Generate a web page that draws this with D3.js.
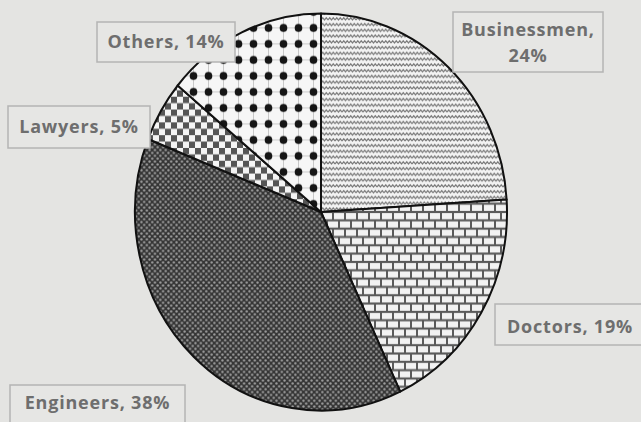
<!DOCTYPE html>
<html>
<head>
<meta charset="utf-8">
<script src="https://cdn.jsdelivr.net/npm/d3@7"></script>
<style>
  html, body { margin: 0; padding: 0; background: #e4e4e2; }
  svg { display: block; }
  .lbl { font-family: "Open Sans", sans-serif; font-weight: 700; fill: #6e6e6e; letter-spacing: 0.8px; }
</style>
</head>
<body>
<svg id="chart" width="641" height="422"></svg>
<script>
// ---- data ----
const categories = ["Businessmen", "Doctors", "Engineers", "Lawyers", "Others"];
const values = [24, 19, 38, 5, 14];
const patternIds = ["wave", "brick", "dense", "checker", "dots"];

// ---- layout (label boxes: x, y, w, h, text line baselines) ----
const labelBoxes = [
  { x: 453, y: 12, w: 150, h: 60, lines: [36, 62], split: true },
  { x: 495, y: 304, w: 150, h: 41, lines: [333] },
  { x: 10, y: 385, w: 175, h: 40, lines: [409] },
  { x: 8, y: 106, w: 142, h: 42, lines: [133] },
  { x: 97, y: 22, w: 138, h: 40, lines: [48] }
];

const svg = d3.select("#chart");
const W = 641, H = 422;
svg.append("rect").attr("width", W).attr("height", H).attr("fill", "#e4e4e2");

const defs = svg.append("defs");

// wave pattern (Businessmen)
{
  const p = defs.append("pattern").attr("id", "wave").attr("patternUnits", "userSpaceOnUse")
    .attr("width", 7).attr("height", 5.4);
  p.append("rect").attr("width", 7).attr("height", 5.4).attr("fill", "#f3f3f3");
  p.append("path").attr("d", "M0,3.6 L1.75,1.6 L3.5,3.6 L5.25,1.6 L7,3.6")
    .attr("fill", "none").attr("stroke", "#7a7a7a").attr("stroke-width", 1.1);
}
// brick pattern (Doctors)
{
  const bw = 12, bh = 7.8;
  const p = defs.append("pattern").attr("id", "brick").attr("patternUnits", "userSpaceOnUse")
    .attr("width", bw * 2).attr("height", bh * 2);
  p.append("rect").attr("width", bw * 2).attr("height", bh * 2).attr("fill", "#5a5a5a");
  const g = p.append("g").attr("fill", "#f2f2f2");
  [[1, 1], [bw + 1, 1], [-bw / 2 + 1, bh + 1], [bw / 2 + 1, bh + 1], [bw * 1.5 + 1, bh + 1]].forEach(([x, y]) => {
    g.append("rect").attr("x", x).attr("y", y).attr("width", bw - 2).attr("height", bh - 2);
  });
}
// dense pattern (Engineers)
{
  const s = 5.4;
  const p = defs.append("pattern").attr("id", "dense").attr("patternUnits", "userSpaceOnUse")
    .attr("width", s).attr("height", s);
  p.append("rect").attr("width", s).attr("height", s).attr("fill", "#363636");
  p.append("circle").attr("cx", s / 4).attr("cy", s / 4).attr("r", 1.15).attr("fill", "#a0a0a0");
  p.append("circle").attr("cx", s * 3 / 4).attr("cy", s * 3 / 4).attr("r", 1.15).attr("fill", "#a0a0a0");
}
// checker pattern (Lawyers)
{
  const s = 6;
  const p = defs.append("pattern").attr("id", "checker").attr("patternUnits", "userSpaceOnUse")
    .attr("width", s * 2).attr("height", s * 2);
  p.append("rect").attr("width", s * 2).attr("height", s * 2).attr("fill", "#555");
  p.append("rect").attr("x", 0).attr("y", 0).attr("width", s).attr("height", s).attr("fill", "#f4f4f4");
  p.append("rect").attr("x", s).attr("y", s).attr("width", s).attr("height", s).attr("fill", "#f4f4f4");
}
// big dots pattern (Others)
{
  const s = 15;
  const p = defs.append("pattern").attr("id", "dots").attr("patternUnits", "userSpaceOnUse")
    .attr("width", s).attr("height", s);
  p.append("rect").attr("width", s).attr("height", s).attr("fill", "#f6f6f6");
  p.append("path").attr("d", `M${s/2},0 V${s} M0,${s/2} H${s}`).attr("stroke", "#c8c8c8").attr("stroke-width", 1);
  p.append("circle").attr("cx", s / 2).attr("cy", s / 2).attr("r", 3.8).attr("fill", "#151515");
}

// ---- pie ----
const cx = 321, cy = 212, rx = 186, ry = 198.5;
const pie = d3.pie().sort(null).value(d => d.v);
const data = categories.map((c, i) => ({ c, v: values[i], i }));
const arcs = pie(data);
const arc = d3.arc().innerRadius(0).outerRadius(rx);

const g = svg.append("g").attr("transform", `translate(${cx},${cy}) scale(1,${ry / rx})`);
g.selectAll("path.slice").data(arcs).join("path")
  .attr("class", "slice")
  .attr("d", arc)
  .attr("fill", d => `url(#${patternIds[d.data.i]})`)
  .attr("stroke", "#111")
  .attr("stroke-width", 2)
  .attr("stroke-linejoin", "round");

// ---- labels ----
const lg = svg.append("g");
arcs.forEach(d => {
  const b = labelBoxes[d.data.i];
  lg.append("rect").attr("x", b.x).attr("y", b.y).attr("width", b.w).attr("height", b.h)
    .attr("fill", "#e6e6e4").attr("stroke", "#b4b4b4").attr("stroke-width", 1.5);
  const lines = b.split ? [`${d.data.c},`, `${d.data.v}%`] : [`${d.data.c}, ${d.data.v}%`];
  lines.forEach((t, k) => {
    lg.append("text").attr("class", "lbl")
      .attr("x", b.x + b.w / 2).attr("y", b.lines[k])
      .attr("text-anchor", "middle")
      .attr("font-size", 18)
      .text(t);
  });
});
</script>
</body>
</html>
